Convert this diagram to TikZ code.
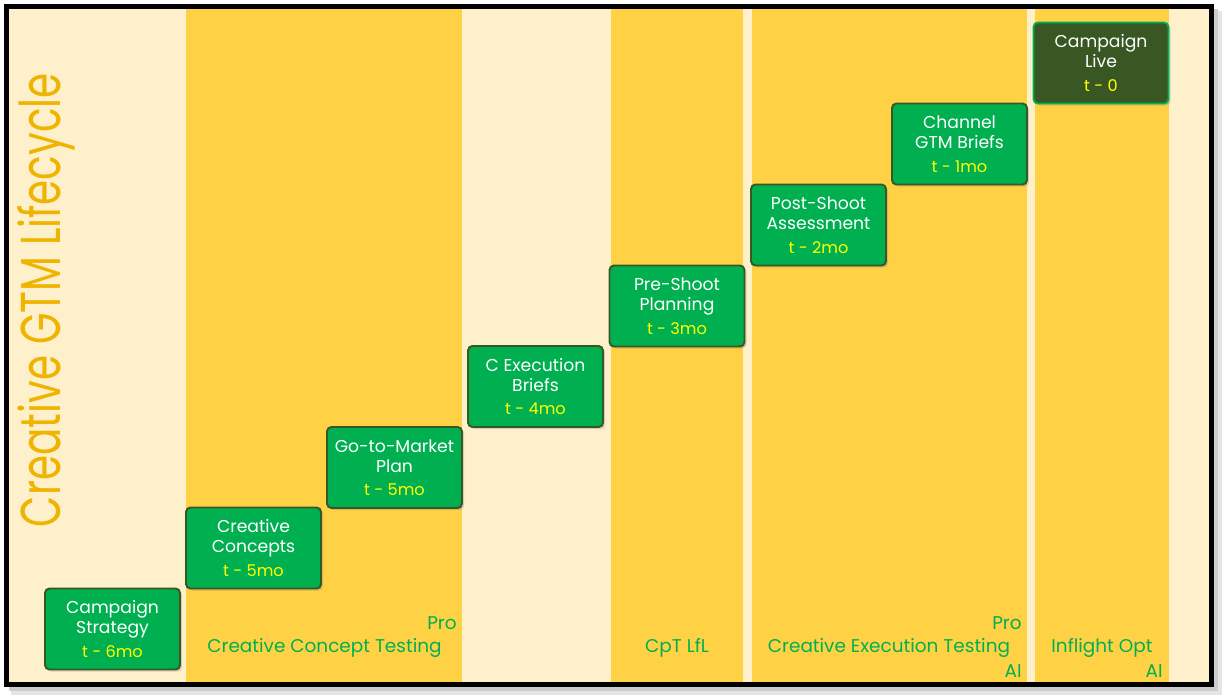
\documentclass[tikz,border=0pt]{standalone}
\usepackage{fontspec}
\setmainfont{Poppins}
\newfontfamily\titlefont[FakeStretch=0.72]{Poppins}
\usetikzlibrary{shadows}
\definecolor{cream}{HTML}{FFF0CC}
\definecolor{bandyellow}{HTML}{FFD246}
\definecolor{stepgreen}{HTML}{00B050}
\definecolor{darkolive}{HTML}{385723}
\definecolor{tyellow}{HTML}{FFFF00}
\definecolor{titlegold}{HTML}{EEB400}
\newcommand{\tmark}[1]{\\[2pt]{\color{tyellow}\fontsize{9.2}{10}\selectfont t - #1}}

\begin{document}
\begin{tikzpicture}[x=0.02cm,y=-0.02cm,
  stage/.style={draw=darkolive, fill=stepgreen, line width=1.1pt, rounded corners=2.5pt,
    minimum width=2.7cm, minimum height=1.62cm, inner sep=0pt, align=center, text=white,
    font=\fontsize{9.8}{11.4}\selectfont,
    drop shadow={shadow xshift=1.2pt, shadow yshift=-1.2pt, opacity=0.3}},
  live/.style={stage, fill=darkolive, draw=stepgreen},
  bandlabel/.style={text=stepgreen, inner sep=0pt, font=\fontsize{10.5}{12}\selectfont}]
\useasboundingbox (0,0) rectangle (1225,698);
\fill[white] (0,0) rectangle (1225,698);

% frame shadow and page
\fill[black!10] (11,11) rectangle (1222,695);
\fill[black!20] (9,9) rectangle (1218,691);
\fill[cream] (9,9) rectangle (1209,682);

% bands
\fill[bandyellow] (186,9) rectangle (462,682);
\fill[bandyellow] (611,9) rectangle (743,682);
\fill[bandyellow] (752,9) rectangle (1027,682);
\fill[bandyellow] (1035,9) rectangle (1169,682);

\draw[line width=0.1cm] (6.5,6.5) rectangle (1211.5,684.5);

% title
\node[rotate=90, text=titlegold, font=\titlefont\fontsize{32}{32}\selectfont] (title) at (46,300) {Creative GTM Lifecycle};

% stages
\node[stage] (strategy) at (112.5,629) {Campaign\\Strategy\tmark{6mo}};
\node[stage] (concepts) at (253.5,548) {Creative\\Concepts\tmark{5mo}};
\node[stage] (gtmplan) at (394.5,467.5) {Go-to-Market\\Plan\tmark{5mo}};
\node[stage] (execbriefs) at (535.5,386.5) {C Execution\\Briefs\tmark{4mo}};
\node[stage] (preshoot) at (677,306) {Pre-Shoot\\Planning\tmark{3mo}};
\node[stage] (postshoot) at (818.5,225) {Post-Shoot\\Assessment\tmark{2mo}};
\node[stage] (channel) at (959.5,144) {Channel\\GTM Briefs\tmark{1mo}};
\node[live] (live) at (1101,63) {Campaign\\Live\tmark{0}};

% band labels
\node[bandlabel, anchor=base] (cct) at (324.5,652) {Creative Concept Testing};
\node[bandlabel, anchor=base east] (cctpro) at (457,629) {Pro};
\node[bandlabel, anchor=base] (cptlfl) at (677,652) {CpT LfL};
\node[bandlabel, anchor=base] (cet) at (889,652) {Creative Execution Testing};
\node[bandlabel, anchor=base east] (cetpro) at (1022,629) {Pro};
\node[bandlabel, anchor=base east] (cetai) at (1022,677) {AI};
\node[bandlabel, anchor=base] (inflight) at (1102,652) {Inflight Opt};
\node[bandlabel, anchor=base east] (inflightai) at (1163,677) {AI};
\end{tikzpicture}
\end{document}
